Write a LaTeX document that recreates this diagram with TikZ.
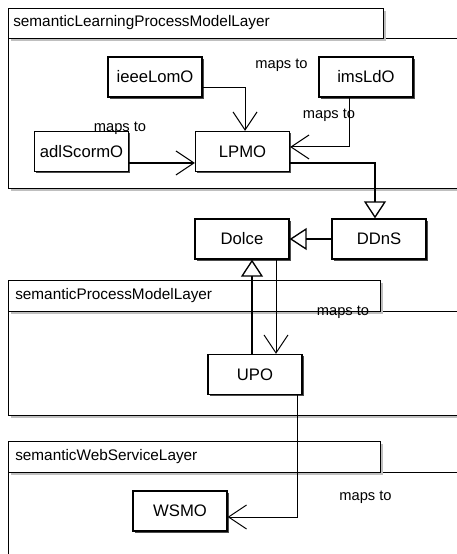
\documentclass[tikz,border=0pt]{standalone}
\usepackage{fontspec}
\setmainfont{Liberation Sans}
\usetikzlibrary{arrows.meta,shadows}
\tikzset{
  pkg/.style={draw,line width=0.75pt,fill=white,
    drop shadow={shadow xshift=2.25pt,shadow yshift=-2.25pt,fill=black!25,opacity=1}},
  pkgname/.style={anchor=west,inner sep=0pt,font=\fontsize{11.5}{13}\selectfont},
  cls/.style={draw,line width=1pt,fill=white,minimum width=70.5pt,minimum height=30pt,
    font=\fontsize{12.5}{14}\selectfont,
    drop shadow={shadow xshift=1.2pt,shadow yshift=-1.2pt,fill=black!70,opacity=1}},
  mapslbl/.style={inner sep=0pt,font=\fontsize{11}{13}\selectfont},
  maps/.style={line width=0.75pt,-{Straight Barb[length=13.5pt,width=18pt,line width=0.75pt]}},
  isa/.style={line width=1.5pt,-{Triangle[open,length=12.75pt,width=16.5pt,line width=1pt]}}
}
\begin{document}
\begin{tikzpicture}[x=0.75pt,y=-0.75pt]
  \useasboundingbox (0,0) rectangle (457,554);
  \clip (0,0) rectangle (457,554);
  \draw[pkg] (8,38) rectangle (475,188);
  \draw[pkg] (8,8) rectangle (383,38);
  \node[pkgname] (learnlayer) at (13,23) {semanticLearningProcessModelLayer};
  \draw[pkg] (8,311) rectangle (475,415);
  \draw[pkg] (8,280) rectangle (380,311);
  \node[pkgname] (proclayer) at (15,296) {semanticProcessModelLayer};
  \draw[pkg] (8,472) rectangle (475,580);
  \draw[pkg] (8,441) rectangle (380,472);
  \node[pkgname] (wslayer) at (15,457) {semanticWebServiceLayer};

  \node[cls] (ieeeLomO) at (155,77) {ieeeLomO};
  \node[cls] (imsLdO) at (366,77) {imsLdO};
  \node[cls] (adlScormO) at (81.5,151.5) {adlScormO};
  \node[cls] (LPMO) at (242.5,151.5) {LPMO};
  \node[cls] (Dolce) at (242,239) {Dolce};
  \node[cls] (DDnS) at (379,239) {DDnS};
  \node[cls] (UPO) at (255,374.5) {UPO};
  \node[cls] (WSMO) at (180,511) {WSMO};

  \node[mapslbl] (mapsA) at (281.5,65) {maps to};
  \node[mapslbl] (mapsB) at (329,115) {maps to};
  \node[mapslbl] (mapsC) at (120,128) {maps to};
  \node[mapslbl] (mapsD) at (343,312) {maps to};
  \node[mapslbl] (mapsE) at (365.5,497) {maps to};

  \draw[maps] ([yshift=-7.5pt]ieeeLomO.east) -| ([xshift=1.9pt]LPMO.north);
  \draw[maps] ([xshift=-12.75pt]imsLdO.south) |- ([yshift=3.4pt]LPMO.east);
  \draw[maps,line width=1.5pt] ([yshift=-8.6pt]adlScormO.east) -- ([yshift=-8.6pt]LPMO.west);
  \draw[isa] ([yshift=-8.6pt]LPMO.east) -| ([xshift=-3pt]DDnS.north);
  \draw[isa] (DDnS.west) -- (Dolce.east);
  \draw[isa] ([xshift=-2.25pt]UPO.north) coordinate (upotop) -- (upotop |- Dolce.south);
  \draw[maps] ([xshift=25.5pt]Dolce.south) coordinate (dolcebot) -- (dolcebot |- UPO.north);
  \draw[maps] ([xshift=31.5pt]UPO.south) |- ([yshift=-4.5pt]WSMO.east);
\end{tikzpicture}
\end{document}
